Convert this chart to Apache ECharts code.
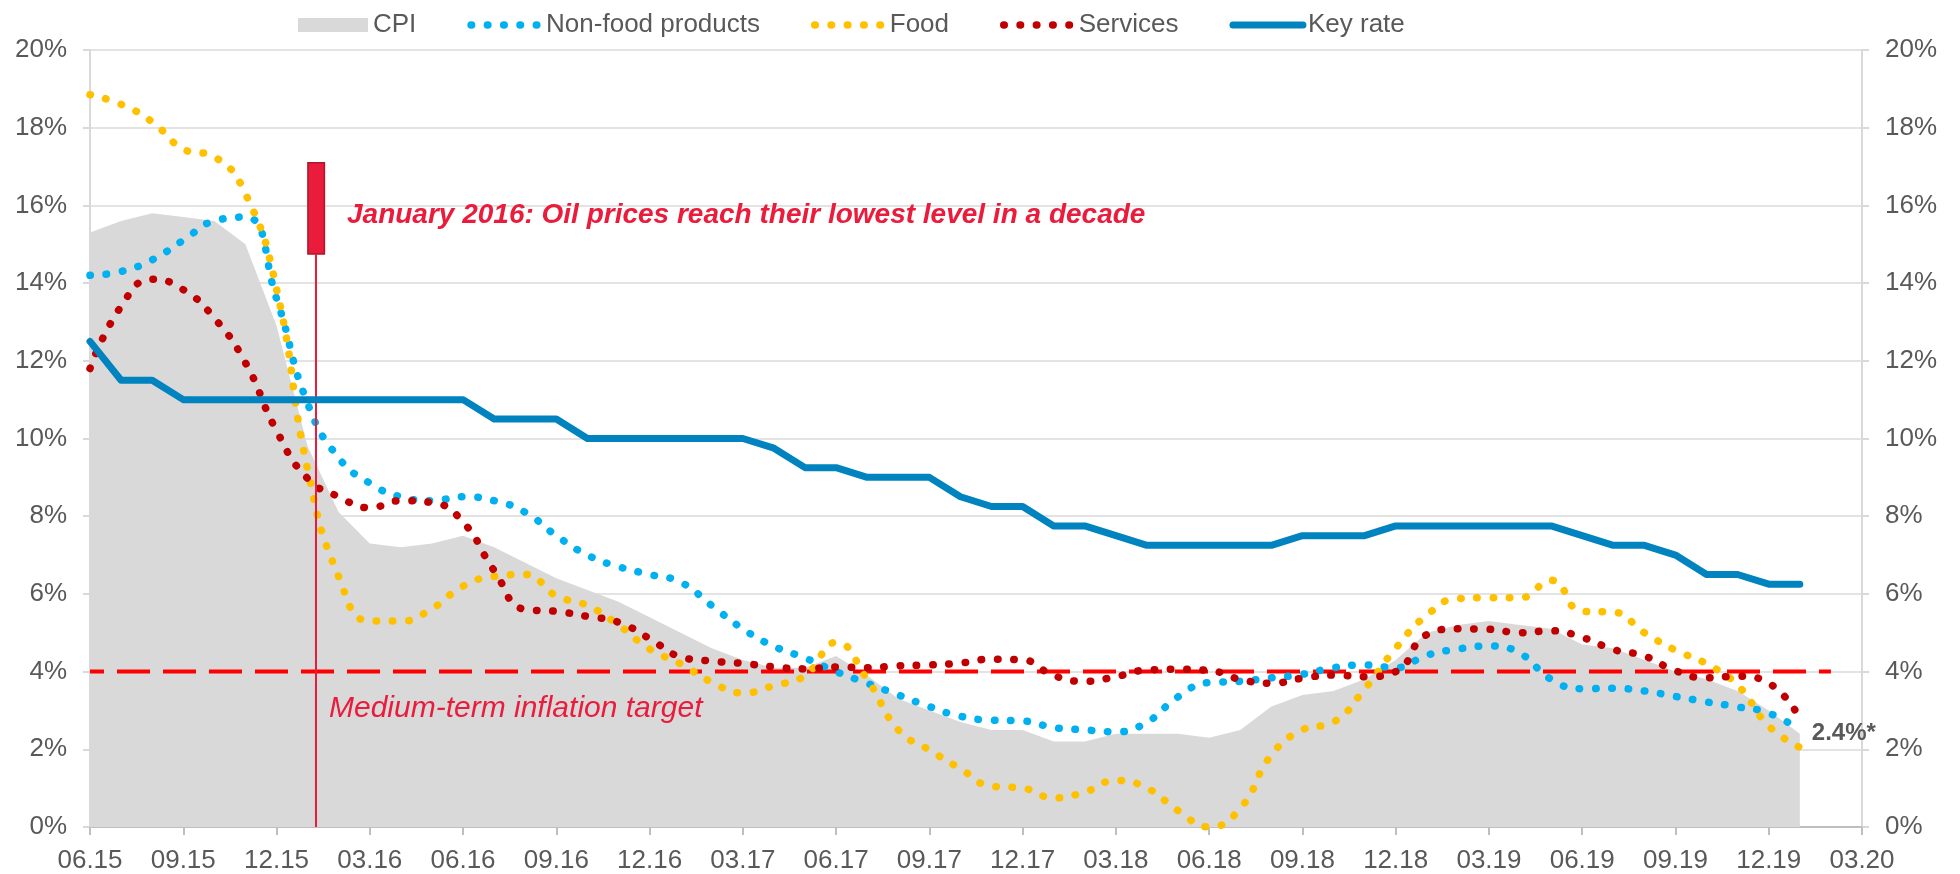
<!DOCTYPE html>
<html>
<head>
<meta charset="utf-8">
<title>Inflation and key rate</title>
<script src="https://cdn.jsdelivr.net/npm/echarts@6/dist/echarts.min.js"></script>
<style>
html, body { margin: 0; padding: 0; background: #fff; }
#data1 { width: 1960px; height: 874px; }
</style>
</head>
<body>
<div id="data1"></div>
<script>
// monthly, 06.15 .. 03.20
var months = ['06.15','07.15','08.15','09.15','10.15','11.15','12.15',
    '01.16','02.16','03.16','04.16','05.16','06.16','07.16','08.16','09.16','10.16','11.16','12.16',
    '01.17','02.17','03.17','04.17','05.17','06.17','07.17','08.17','09.17','10.17','11.17','12.17',
    '01.18','02.18','03.18','04.18','05.18','06.18','07.18','08.18','09.18','10.18','11.18','12.18',
    '01.19','02.19','03.19','04.19','05.19','06.19','07.19','08.19','09.19','10.19','11.19','12.19',
    '01.20','02.20','03.20'];

var cpi = [15.3, 15.6, 15.8, 15.7, 15.6, 15.0, 12.9,
    9.8, 8.1, 7.3, 7.2, 7.3, 7.5, 7.2, 6.8, 6.4, 6.1, 5.8, 5.4,
    5.0, 4.6, 4.3, 4.1, 4.1, 4.4, 3.9, 3.3, 3.0, 2.7, 2.5, 2.5,
    2.2, 2.2, 2.4, 2.4, 2.4, 2.3, 2.5, 3.1, 3.4, 3.5, 3.8, 4.3,
    5.0, 5.2, 5.3, 5.2, 5.1, 4.7, 4.6, 4.3, 4.0, 3.8, 3.5, 3.0,
    2.4];

var nonFood = [14.2, 14.3, 14.6, 15.1, 15.6, 15.7, 13.6,
    10.9, 9.5, 8.85, 8.5, 8.4, 8.5, 8.4, 8.1, 7.5, 7.0, 6.7, 6.5,
    6.3, 5.7, 5.1, 4.65, 4.35, 4.0, 3.7, 3.4, 3.1, 2.85, 2.75, 2.73,
    2.56, 2.5, 2.45, 2.7, 3.35, 3.72, 3.75, 3.84, 3.93, 4.1, 4.17, 4.1,
    4.42, 4.58, 4.66, 4.47, 3.8, 3.56, 3.57, 3.5, 3.36, 3.22, 3.09, 2.93,
    2.5];

var food = [18.85, 18.6, 18.15, 17.45, 17.25, 16.3, 13.85,
    9.2, 6.44, 5.3, 5.3, 5.62, 6.2, 6.45, 6.5, 5.95, 5.7, 5.2, 4.58,
    4.2, 3.73, 3.45, 3.64, 3.9, 4.75, 3.8, 2.5, 1.98, 1.5, 1.05, 1.0,
    0.75, 0.9, 1.2, 1.0, 0.42, 0.0, 0.48, 1.85, 2.5, 2.7, 3.55, 4.6,
    5.45, 5.88, 5.9, 5.9, 6.35, 5.55, 5.53, 5.0, 4.55, 4.2, 3.65, 2.6,
    2.05];

var services = [11.8, 13.4, 14.1, 13.83, 13.1, 11.95, 10.2,
    8.97, 8.5, 8.22, 8.4, 8.35, 7.85, 6.6, 5.6, 5.55, 5.42, 5.27, 4.85,
    4.38, 4.27, 4.21, 4.12, 4.07, 4.12, 4.1, 4.15, 4.17, 4.22, 4.32, 4.3,
    3.9, 3.75, 3.87, 4.04, 4.06, 4.03, 3.8, 3.7, 3.83, 3.91, 3.87, 4.0,
    4.95, 5.1, 5.09, 5.0, 5.05, 4.88, 4.57, 4.4, 4.02, 3.84, 3.88, 3.7,
    2.8];

var keyRate = [12.5, 11.5, 11.5, 11, 11, 11, 11,
    11, 11, 11, 11, 11, 11, 10.5, 10.5, 10.5, 10, 10, 10,
    10, 10, 10, 9.75, 9.25, 9.25, 9, 9, 9, 8.5, 8.25, 8.25,
    7.75, 7.75, 7.5, 7.25, 7.25, 7.25, 7.25, 7.25, 7.5, 7.5, 7.5, 7.75,
    7.75, 7.75, 7.75, 7.75, 7.75, 7.5, 7.25, 7.25, 7, 6.5, 6.5, 6.25,
    6.25];

// medium-term inflation target, drawn up to 02.20
var target = [4, 4, 4, 4, 4, 4, 4, 4, 4, 4, 4, 4, 4, 4, 4, 4, 4, 4, 4,
    4, 4, 4, 4, 4, 4, 4, 4, 4, 4, 4, 4, 4, 4, 4, 4, 4, 4, 4, 4,
    4, 4, 4, 4, 4, 4, 4, 4, 4, 4, 4, 4, 4, 4, 4, 4, 4, 4];

// oil price low, mid January 2016 (month index), box from 14.75% to 17.1%
var oilEvent = { x: 7.27, x0: 7.01, x1: 7.54, low: 14.75, high: 17.1 };

var grey = '#595959';
var noteRed = '#EB1B3C';

function pairs(arr) {
    return arr.map(function (v, i) { return [i, v]; });
}

function dotted(name, arr, color) {
    return {
        name: name,
        type: 'line',
        data: pairs(arr),
        smooth: 0.5,
        symbol: 'none',
        z: 4,
        itemStyle: { color: color },
        lineStyle: { color: color, width: 7.5, type: [0.5, 15.8], cap: 'round' }
    };
}

window.onload = function () {

    var data1 = echarts.init(document.getElementById('data1'));

    option = {
    animation: false,
    textStyle: { fontFamily: 'Liberation Sans' },
    legend: {
        left: 293,
        top: 7,
        itemWidth: 70,
        itemHeight: 14,
        itemGap: 51,
        textStyle: { fontSize: 26, color: grey },
        itemStyle: { opacity: 0 },
        lineStyle: { width: 'inherit' },
        data: [
            { name: 'CPI', icon: 'rect', itemStyle: { opacity: 1, color: '#D9D9D9' } },
            'Non-food products', 'Food', 'Services', 'Key rate'
        ]
    },
    grid: {
        left: 90,
        right: 98,
        top: 50,
        bottom: 46
    },
    xAxis: {
        type: 'value',
        min: 0,
        max: 57,
        interval: 3,
        axisLine: { lineStyle: { color: '#BFBFBF', width: 2 } },
        axisTick: { length: 8, lineStyle: { color: '#BFBFBF', width: 2 } },
        axisLabel: {
            margin: 21, fontSize: 26, color: grey,
            showMinLabel: true, showMaxLabel: true,
            formatter: function (v) { return months[v]; }
        },
        splitLine: { show: false }
    },
    yAxis: [
        {
            type: 'value', min: 0, max: 20, interval: 2, position: 'left',
            axisLine: { show: true, lineStyle: { color: '#D9D9D9', width: 2 } },
            axisTick: { show: true, length: 7, lineStyle: { color: '#D9D9D9', width: 2 } },
            axisLabel: { margin: 23, fontSize: 26, color: grey, formatter: '{value}%' },
            splitLine: { lineStyle: { color: '#E3E3E3', width: 2 } }
        },
        {
            type: 'value', min: 0, max: 20, interval: 2, position: 'right',
            axisLine: { show: true, lineStyle: { color: '#D9D9D9', width: 2 } },
            axisTick: { show: true, length: 7, lineStyle: { color: '#D9D9D9', width: 2 } },
            axisLabel: { margin: 23, fontSize: 26, color: grey, formatter: '{value}%' },
            splitLine: { show: false }
        }
    ],
    graphic: [
        {
            type: 'text', left: 347, top: 201, z: 10,
            style: {
                text: 'January 2016: Oil prices reach their lowest level in a decade',
                font: 'italic bold 28px "Liberation Sans"',
                fill: noteRed
            }
        },
        {
            type: 'text', left: 329, top: 694, z: 10,
            style: {
                text: 'Medium-term inflation target',
                font: 'italic 30px "Liberation Sans"',
                fill: noteRed
            }
        }
    ],
    series: [
        {
            name: 'CPI',
            type: 'line',
            data: pairs(cpi),
            symbol: 'none',
            z: 1,
            itemStyle: { color: '#D9D9D9' },
            lineStyle: { width: 0 },
            areaStyle: { color: '#D9D9D9', opacity: 1 },
            endLabel: {
                show: true,
                distance: 12,
                fontSize: 24,
                fontWeight: 'bold',
                color: grey,
                formatter: function (p) { return p.value[1] + '%*'; }
            }
        },
        {
            name: 'target',
            type: 'line',
            data: pairs(target),
            symbol: 'none',
            silent: true,
            z: 3,
            lineStyle: { color: '#FF0000', width: 4, type: [33, 13], dashOffset: 19 },
            markLine: {
                silent: true,
                symbol: 'none',
                label: { show: false },
                lineStyle: { color: noteRed, width: 2, type: 'solid' },
                data: [[
                    { coord: [oilEvent.x, oilEvent.low] },
                    { coord: [oilEvent.x, 0] }
                ]]
            },
            markArea: {
                silent: true,
                itemStyle: { color: noteRed, opacity: 1, borderColor: '#A8182E', borderWidth: 1.5 },
                data: [[
                    { coord: [oilEvent.x0, oilEvent.high] },
                    { coord: [oilEvent.x1, oilEvent.low] }
                ]]
            }
        },
        dotted('Non-food products', nonFood, '#00B0F0'),
        dotted('Food', food, '#FFC000'),
        dotted('Services', services, '#C00000'),
        {
            name: 'Key rate',
            type: 'line',
            data: pairs(keyRate),
            symbol: 'none',
            z: 5,
            itemStyle: { color: '#0083BF' },
            lineStyle: { color: '#0083BF', width: 7, cap: 'round', join: 'round' }
        }
    ]
};

    data1.setOption(option);

}
</script>
</body>
</html>
